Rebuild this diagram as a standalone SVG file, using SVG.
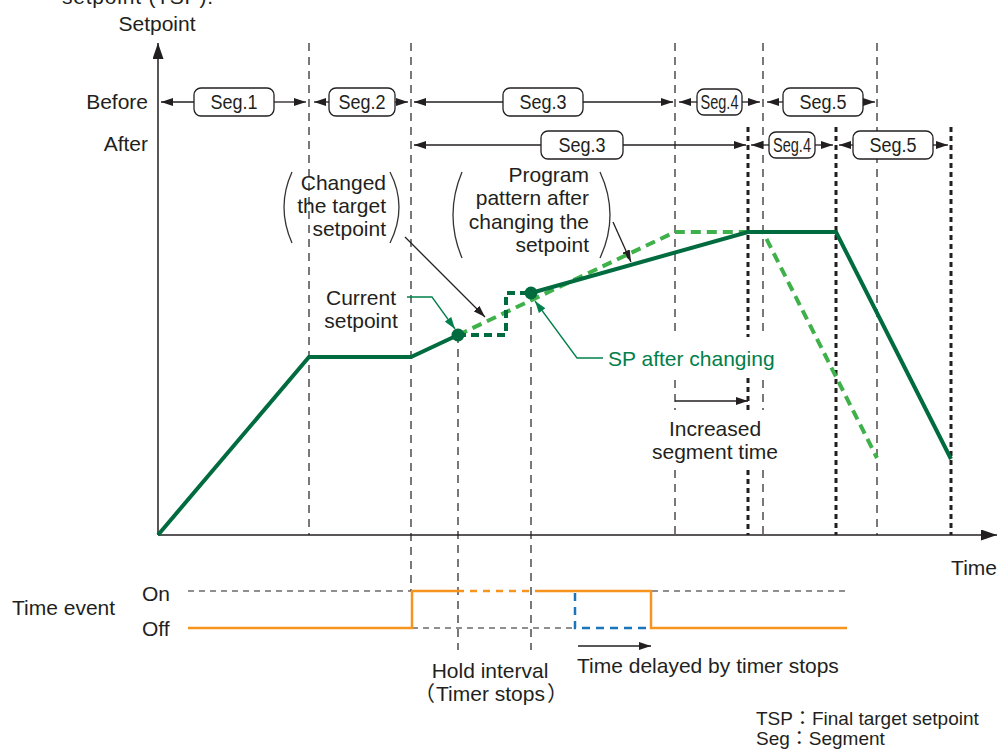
<svg xmlns="http://www.w3.org/2000/svg" width="999" height="751" viewBox="0 0 999 751">
<defs>
<style>
text{font-family:"Liberation Sans",Arial,"Noto Sans CJK JP",sans-serif;font-size:21px;fill:#231f20}
.seg{font-size:20px;text-anchor:middle}
.lgd{font-size:19px}
.box{fill:#fff;stroke:#231f20;stroke-width:1.3}
.ar{stroke:#231f20;stroke-width:1.3;fill:none;marker-end:url(#ah)}
.thin{stroke:#231f20;stroke-width:1.2;stroke-dasharray:8 6;fill:none}
.thick{stroke:#231f20;stroke-width:3;stroke-dasharray:5 4;fill:none}
.ev{stroke:#231f20;stroke-width:1.2;stroke-dasharray:6 5;fill:none}
.dg{stroke:#006b3f;stroke-width:4;fill:none;stroke-linejoin:miter}
.dgd{stroke:#006b3f;stroke-width:4;fill:none;stroke-dasharray:8 5}
.lg{stroke:#3fb14a;stroke-width:4;fill:none;stroke-dasharray:10 6}
.or{stroke:#f7941d;stroke-width:2.5;fill:none}
.par{stroke:#333;stroke-width:1.3;fill:none}
.gl{stroke:#00804a;stroke-width:1.3;fill:none;marker-end:url(#ahg)}
</style>
<marker id="ah" markerUnits="userSpaceOnUse" markerWidth="12" markerHeight="8" refX="12" refY="4" orient="auto"><path d="M0,0 L12,4 L0,8 z" fill="#231f20"/></marker>
<marker id="ahg" markerUnits="userSpaceOnUse" markerWidth="12" markerHeight="8" refX="12" refY="4" orient="auto"><path d="M0,0 L12,4 L0,8 z" fill="#00804a"/></marker>
<marker id="axh" markerUnits="userSpaceOnUse" markerWidth="16" markerHeight="11" refX="16" refY="5.5" orient="auto"><path d="M0,0 L16,5.5 L0,11 z" fill="#231f20"/></marker>
</defs>
<rect width="999" height="751" fill="#fff"/>

<text x="62" y="4" textLength="151">setpoint (TSP).</text>

<g id="axes">
<line x1="158" y1="535" x2="158" y2="43" stroke="#231f20" stroke-width="1.5" marker-end="url(#axh)"/>
<line x1="158" y1="535" x2="997" y2="535" stroke="#231f20" stroke-width="1.5" marker-end="url(#axh)"/>
<text x="157" y="31" text-anchor="middle">Setpoint</text>
<text x="997" y="575" text-anchor="end">Time</text>
<text x="148" y="109" text-anchor="end">Before</text>
<text x="148" y="151" text-anchor="end">After</text>
</g>

<g id="gridlines">
<line class="thin" x1="309" y1="43" x2="309" y2="535"/>
<line class="thin" x1="411" y1="43" x2="411" y2="591"/>
<line class="thin" x1="458" y1="335" x2="458" y2="650"/>
<line class="thin" x1="531" y1="293" x2="531" y2="650"/>
<path class="thin" d="M675,43 V337 M675,380 V410 M675,470 V535"/>
<path class="thin" d="M763,43 V337 M763,380 V410 M763,470 V535"/>
<line class="thin" x1="877" y1="43" x2="877" y2="535"/>
<path class="thick" d="M748,127 V337 M748,378 V410 M748,470 V535"/>
<line class="thick" x1="836" y1="127" x2="836" y2="535"/>
<line class="thick" x1="951" y1="127" x2="951" y2="535"/>
</g>

<g id="connectors">
<line class="ar" x1="194" y1="102" x2="161" y2="102"/>
<line class="ar" x1="274" y1="102" x2="306" y2="102"/>
<line class="ar" x1="329" y1="102" x2="314" y2="102"/>
<line class="ar" x1="395" y1="102" x2="408" y2="102"/>
<line class="ar" x1="503" y1="102" x2="414" y2="102"/>
<line class="ar" x1="583" y1="102" x2="673" y2="102"/>
<line class="ar" x1="697" y1="102" x2="679" y2="102"/>
<line class="ar" x1="742" y1="102" x2="760" y2="102"/>
<line class="ar" x1="783" y1="102" x2="767" y2="102"/>
<line class="ar" x1="863" y1="102" x2="875" y2="102"/>
<line class="ar" x1="541" y1="145" x2="414" y2="145"/>
<line class="ar" x1="623" y1="145" x2="746" y2="145"/>
<line class="ar" x1="769" y1="145" x2="751" y2="145"/>
<line class="ar" x1="815" y1="145" x2="833" y2="145"/>
<line class="ar" x1="853" y1="145" x2="839" y2="145"/>
<line class="ar" x1="933" y1="145" x2="948" y2="145"/>
<line class="ar" x1="405" y1="237" x2="485" y2="317"/>
<line class="ar" x1="613" y1="222" x2="631" y2="262"/>
<polyline class="gl" points="407,297 432,297 455,329"/>
<polyline class="gl" points="603,358 577,358 535,301"/>
<line class="ar" x1="675" y1="401" x2="748" y2="401"/>
<line class="ar" x1="578" y1="646" x2="651" y2="646"/>
</g>

<g id="seg-before">
<rect class="box" x="194" y="88" width="80" height="28" rx="7"/><text class="seg" x="234" y="109" textLength="47" lengthAdjust="spacingAndGlyphs">Seg.1</text>
<rect class="box" x="329" y="88" width="66" height="28" rx="7"/><text class="seg" x="362" y="109" textLength="47" lengthAdjust="spacingAndGlyphs">Seg.2</text>
<rect class="box" x="503" y="88" width="80" height="28" rx="7"/><text class="seg" x="543" y="109" textLength="47" lengthAdjust="spacingAndGlyphs">Seg.3</text>
<rect class="box" x="697" y="89" width="45" height="26" rx="7"/><text class="seg" x="719.5" y="109" textLength="38" lengthAdjust="spacingAndGlyphs">Seg.4</text>
<rect class="box" x="783" y="88" width="80" height="28" rx="7"/><text class="seg" x="823" y="109" textLength="47" lengthAdjust="spacingAndGlyphs">Seg.5</text>
</g>
<g id="seg-after">
<rect class="box" x="541" y="131" width="82" height="28" rx="7"/><text class="seg" x="582" y="152" textLength="47" lengthAdjust="spacingAndGlyphs">Seg.3</text>
<rect class="box" x="769" y="132" width="46" height="26" rx="7"/><text class="seg" x="792" y="152" textLength="38" lengthAdjust="spacingAndGlyphs">Seg.4</text>
<rect class="box" x="853" y="131" width="80" height="28" rx="7"/><text class="seg" x="893" y="152" textLength="47" lengthAdjust="spacingAndGlyphs">Seg.5</text>
</g>

<g id="curves">
<polyline class="lg" points="458,335 675,232 763,232 877,458"/>
<polyline class="dgd" points="458,335 506,335 506,293 531,293"/>
<polyline class="dg" points="158,535 309,357 411,357 458,335"/>
<polyline class="dg" points="531,293 748,232 836,232 951,459"/>
<circle cx="458" cy="335" r="6.5" fill="#006b3f"/>
<circle cx="531" cy="293" r="6.5" fill="#006b3f"/>
</g>

<g id="label-changed">
<path class="par" d="M292,172 Q276,207 292,243"/>
<path class="par" d="M390,172 Q408,207 390,243"/>
<text x="386" y="190" text-anchor="end">Changed</text>
<text x="386" y="213" text-anchor="end">the target</text>
<text x="386" y="236" text-anchor="end">setpoint</text>
</g>
<g id="label-program">
<path class="par" d="M462,172 Q444,215 462,258"/>
<path class="par" d="M600,172 Q620,215 600,258"/>
<text x="589" y="182" text-anchor="end">Program</text>
<text x="589" y="205" text-anchor="end">pattern after</text>
<text x="589" y="229" text-anchor="end">changing the</text>
<text x="589" y="252" text-anchor="end">setpoint</text>
</g>
<g id="label-current">
<text x="361" y="305" text-anchor="middle">Current</text>
<text x="361" y="328" text-anchor="middle">setpoint</text>
</g>
<g id="label-sp">
<text x="608" y="366" style="fill:#00804a">SP after changing</text>
</g>
<g id="label-increased">
<text x="715" y="436" text-anchor="middle">Increased</text>
<text x="715" y="459" text-anchor="middle">segment time</text>
</g>

<g id="time-event">
<text x="12" y="615">Time event</text>
<text x="142" y="601">On</text>
<text x="142" y="636">Off</text>
<line class="ev" x1="188" y1="591" x2="412" y2="591"/>
<line class="ev" x1="652" y1="591" x2="847" y2="591"/>
<line class="ev" x1="412" y1="628" x2="574" y2="628"/>
<polyline class="or" points="188,628 412,628 412,591 457,591"/>
<line class="or" x1="457" y1="591" x2="531" y2="591" stroke-dasharray="7 6"/>
<polyline class="or" points="535,591 651,591 651,628 847,628"/>
<polyline points="575,593 575,628 651,628" fill="none" stroke="#1b75bb" stroke-width="2.5" stroke-dasharray="8 6"/>
<text x="490" y="678" text-anchor="middle">Hold interval</text>
<text y="701"><tspan x="414">（</tspan><tspan x="436">Timer stops</tspan><tspan x="547">）</tspan></text>
<text x="577" y="673">Time delayed by timer stops</text>
</g>

<g id="legend">
<text class="lgd" x="756" y="725">TSP：Final target setpoint</text>
<text class="lgd" x="756" y="745">Seg：Segment</text>
</g>
</svg>
